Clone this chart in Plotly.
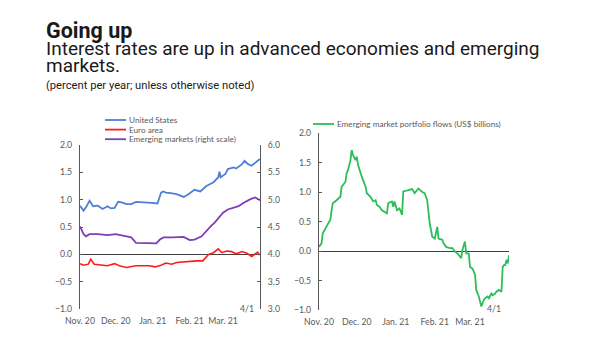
import plotly.graph_objects as go

# ---- Left panel: 10-year government bond yields ----
us_dates = ["2020-11-01", "2020-11-04", "2020-11-06", "2020-11-09", "2020-11-12", "2020-11-16",
            "2020-11-20", "2020-11-24", "2020-11-27", "2020-11-30", "2020-12-03", "2020-12-06",
            "2020-12-10", "2020-12-14", "2020-12-18", "2020-12-22", "2020-12-27", "2020-12-31",
            "2021-01-05", "2021-01-07", "2021-01-08", "2021-01-10", "2021-01-12", "2021-01-16",
            "2021-01-21", "2021-01-27", "2021-01-31", "2021-02-05", "2021-02-10", "2021-02-15",
            "2021-02-21", "2021-02-25", "2021-02-26", "2021-02-27", "2021-03-03", "2021-03-05",
            "2021-03-10", "2021-03-12", "2021-03-17", "2021-03-19", "2021-03-22", "2021-03-25",
            "2021-03-28", "2021-03-31", "2021-04-01"]
us_vals = [0.89, 0.80, 0.86, 0.98, 0.88, 0.89,
           0.83, 0.88, 0.84, 0.85, 0.96, 0.95,
           0.92, 0.92, 0.96, 0.95, 0.94, 0.94,
           0.93, 1.08, 1.13, 1.15, 1.13, 1.12,
           1.10, 1.05, 1.10, 1.18, 1.15, 1.25,
           1.32, 1.41, 1.51, 1.41, 1.47, 1.56,
           1.59, 1.57, 1.65, 1.71, 1.65, 1.62,
           1.68, 1.73, 1.74]

ea_dates = ["2020-11-01", "2020-11-04", "2020-11-08", "2020-11-10", "2020-11-13", "2020-11-19",
            "2020-11-24", "2020-11-30", "2020-12-04", "2020-12-10", "2020-12-14", "2020-12-18",
            "2020-12-24", "2020-12-29", "2021-01-03", "2021-01-08", "2021-01-12", "2021-01-17",
            "2021-01-21", "2021-01-27", "2021-02-01", "2021-02-07", "2021-02-12", "2021-02-17",
            "2021-02-21", "2021-02-25", "2021-02-28", "2021-03-04", "2021-03-08", "2021-03-12",
            "2021-03-17", "2021-03-21", "2021-03-25", "2021-03-28", "2021-03-30", "2021-03-31",
            "2021-04-01"]
ea_vals = [-0.17, -0.20, -0.18, -0.09, -0.18, -0.20,
           -0.21, -0.17, -0.21, -0.24, -0.23, -0.21,
           -0.21, -0.21, -0.23, -0.20, -0.16, -0.18,
           -0.15, -0.14, -0.12, -0.12, -0.12, 0.00,
           0.03, 0.10, 0.03, 0.06, 0.05, 0.01,
           0.05, 0.02, -0.04, 0.01, 0.04, 0.00,
           0.00]

em_dates = ["2020-11-01", "2020-11-04", "2020-11-06", "2020-11-09", "2020-11-16", "2020-11-24",
            "2020-12-01", "2020-12-08", "2020-12-14", "2020-12-18", "2020-12-25", "2021-01-01",
            "2021-01-04", "2021-01-07", "2021-01-10", "2021-01-18", "2021-01-21", "2021-01-27",
            "2021-02-01", "2021-02-05", "2021-02-11", "2021-02-15", "2021-02-19", "2021-02-22",
            "2021-02-25", "2021-03-01", "2021-03-05", "2021-03-10", "2021-03-14", "2021-03-18",
            "2021-03-24", "2021-03-28", "2021-03-30", "2021-03-31", "2021-04-01"]
em_vals = [4.51, 4.37, 4.33, 4.37, 4.37, 4.35,
           4.37, 4.33, 4.31, 4.21, 4.21, 4.20,
           4.20, 4.27, 4.31, 4.31, 4.31, 4.32,
           4.26, 4.27, 4.33, 4.43, 4.52, 4.58,
           4.66, 4.76, 4.82, 4.85, 4.88, 4.94,
           5.01, 5.04, 5.02, 5.01, 4.99]

# ---- Right panel: EM portfolio flows ----
flow_dates = ["2020-11-01", "2020-11-03", "2020-11-04", "2020-11-07", "2020-11-10", "2020-11-11",
              "2020-11-12", "2020-11-15", "2020-11-18", "2020-11-19", "2020-11-22", "2020-11-23",
              "2020-11-24", "2020-11-26", "2020-11-27", "2020-11-28", "2020-11-30", "2020-12-01",
              "2020-12-02", "2020-12-05", "2020-12-08", "2020-12-09", "2020-12-12", "2020-12-14",
              "2020-12-16", "2020-12-17", "2020-12-19", "2020-12-21", "2020-12-23", "2020-12-25",
              "2020-12-26", "2020-12-29", "2020-12-30", "2020-12-31", "2021-01-02", "2021-01-04",
              "2021-01-06", "2021-01-07", "2021-01-11", "2021-01-14", "2021-01-16", "2021-01-19",
              "2021-01-22", "2021-01-24", "2021-01-26", "2021-01-28", "2021-01-30", "2021-02-01",
              "2021-02-03", "2021-02-04", "2021-02-07", "2021-02-08", "2021-02-10", "2021-02-13",
              "2021-02-15", "2021-02-17", "2021-02-19", "2021-02-20", "2021-02-22", "2021-02-23",
              "2021-02-25", "2021-02-26", "2021-02-28", "2021-03-01", "2021-03-03", "2021-03-05",
              "2021-03-06", "2021-03-08", "2021-03-09", "2021-03-10", "2021-03-12", "2021-03-13",
              "2021-03-15", "2021-03-16", "2021-03-18", "2021-03-19", "2021-03-21", "2021-03-22",
              "2021-03-24", "2021-03-26", "2021-03-27", "2021-03-28", "2021-03-29", "2021-03-30",
              "2021-03-31", "2021-04-01"]
flow_vals = [0.07, 0.13, 0.30, 0.41, 0.53, 0.69,
             0.81, 0.86, 0.92, 1.09, 1.17, 1.32,
             1.37, 1.54, 1.71, 1.63, 1.54, 1.60,
             1.46, 1.26, 1.09, 0.98, 0.92, 0.84,
             0.86, 0.78, 0.75, 0.69, 0.67, 0.64,
             0.81, 0.84, 0.75, 0.84, 0.69, 0.72,
             0.61, 1.01, 1.03, 1.05, 0.98, 1.06,
             1.00, 0.98, 0.86, 0.47, 0.24, 0.21,
             0.41, 0.21, 0.19, 0.13, 0.07, 0.05,
             0.05, -0.01, -0.04, -0.07, -0.12, 0.02,
             0.16, -0.04, -0.04, -0.27, -0.30, -0.40,
             -0.66, -0.77, -0.86, -0.94, -0.83, -0.80,
             -0.77, -0.80, -0.72, -0.75, -0.72, -0.69,
             -0.66, -0.69, -0.27, -0.24, -0.24, -0.15,
             -0.21, -0.07]

month_ticks = ["2020-11-01", "2020-12-01", "2021-01-01", "2021-02-01", "2021-03-01", "2021-04-01"]
month_labels = ["Nov. 20", "Dec. 20", "Jan. 21", "Feb. 21", "Mar. 21", ""]
left_names = ["United States", "Euro area", "Emerging markets (right scale)"]
right_name = "Emerging market portfolio flows (US$ billions)"

C_US, C_EA, C_EM, C_FLOW = "#4f7fd6", "#ff1a1a", "#7d3fb8", "#2dbd5a"
AXIS = "#595959"
TICKFONT = dict(family="Lato", size=8.7, color="#595959")
KEYFONT = dict(family="Lato", size=8.2, color="#595959")

W, H = 600, 349


def px(x):
    return x / W


def py(y):
    return (H - y) / H


X_RANGE = ["2020-11-01", "2021-04-01"]

fig = go.Figure()
fig.add_trace(go.Scatter(x=us_dates, y=us_vals, mode="lines", line=dict(color=C_US, width=1.8),
                         xaxis="x", yaxis="y", name=left_names[0]))
fig.add_trace(go.Scatter(x=ea_dates, y=ea_vals, mode="lines", line=dict(color=C_EA, width=1.6),
                         xaxis="x", yaxis="y", name=left_names[1]))
fig.add_trace(go.Scatter(x=em_dates, y=em_vals, mode="lines", line=dict(color=C_EM, width=1.8),
                         xaxis="x", yaxis="y2", name=left_names[2]))
fig.add_trace(go.Scatter(x=flow_dates, y=flow_vals, mode="lines", line=dict(color=C_FLOW, width=1.8),
                         xaxis="x3", yaxis="y3", name=right_name))

L_dom = [px(80), px(260)]
L_ydom = [py(309), py(145)]
R_dom = [px(319), px(509)]
R_ydom = [py(310), py(133)]

date_axis = dict(type="date", range=X_RANGE, showgrid=False, zeroline=False, automargin=False)
val_axis = dict(showgrid=False, showline=True, linecolor=AXIS, linewidth=1.2, dtick=0.5,
                tickformat=".1f", ticks="inside", ticklen=3, tickcolor=AXIS,
                tickfont=TICKFONT, automargin=False, ticklabelstandoff=5)

fig.update_layout(
    width=W, height=H, margin=dict(l=0, r=0, t=0, b=0),
    paper_bgcolor="white", plot_bgcolor="white", showlegend=False,
    xaxis=dict(**date_axis, domain=L_dom, anchor="y", showline=False, ticks="",
               tickvals=month_ticks, ticktext=month_labels, tickfont=TICKFONT,
               ticklabelstandoff=5),
    xaxis2=dict(**date_axis, overlaying="x", anchor="free", position=py(255), side="top",
                showline=False, ticks="outside", ticklen=3, tickcolor=AXIS, tickwidth=1,
                tickvals=month_ticks, showticklabels=False),
    yaxis=dict(**val_axis, domain=L_ydom, anchor="x", range=[-1, 2],
               zeroline=True, zerolinecolor="#404040", zerolinewidth=1.2),
    yaxis2=dict(**val_axis, overlaying="y", side="right", anchor="x", range=[3, 6],
                zeroline=False),
    xaxis3=dict(**date_axis, domain=R_dom, anchor="y3", showline=False, ticks="",
                tickvals=month_ticks, ticktext=month_labels, tickfont=TICKFONT,
                ticklabelstandoff=5),
    xaxis4=dict(**date_axis, overlaying="x3", anchor="free", position=py(251), side="top",
                showline=False, ticks="outside", ticklen=3, tickcolor=AXIS, tickwidth=1,
                tickvals=month_ticks, showticklabels=False),
    yaxis3=dict(**val_axis, domain=R_ydom, anchor="x3", range=[-1, 2],
                zeroline=True, zerolinecolor="#404040", zerolinewidth=1.2),
)

# Headline block: one text box, tight line pitch, larger glyphs set per line
headline = (
    '<span style="font-size:21.5px;font-weight:bold">Going up</span><br>'
    '<span style="font-size:19px">Interest rates are up in advanced economies and emerging</span><br>'
    '<span style="font-size:19px">markets.</span><br>'
    '<span style="font-size:11.2px">(percent per year; unless otherwise noted)</span>'
)
fig.add_annotation(text=headline, x=px(44), y=py(16), xref="paper", yref="paper",
                   xanchor="left", yanchor="top", align="left", showarrow=False,
                   font=dict(family="Roboto", size=13, color="#1a1a1a"))

# Legend keys drawn as short line samples with labels
left_key_colors = [C_US, C_EA, C_EM]
for i, (name, col) in enumerate(zip(left_names, left_key_colors)):
    yk = 120 + i * 9.6
    fig.add_shape(type="line", xref="paper", yref="paper", x0=px(105), x1=px(126),
                  y0=py(yk), y1=py(yk), line=dict(color=col, width=1.8))
    fig.add_annotation(text=name, x=px(127), y=py(yk), xref="paper", yref="paper",
                       xanchor="left", yanchor="middle", showarrow=False, font=KEYFONT)
fig.add_shape(type="line", xref="paper", yref="paper", x0=px(313), x1=px(334),
              y0=py(124), y1=py(124), line=dict(color=C_FLOW, width=1.8))
fig.add_annotation(text=right_name, x=px(335), y=py(124), xref="paper", yref="paper",
                   xanchor="left", yanchor="middle", showarrow=False, font=KEYFONT)

# End-date notes
fig.add_annotation(text="4/1", x=px(247), y=py(316), xref="paper", yref="paper",
                   showarrow=False, font=TICKFONT)
fig.add_annotation(text="4/1", x=px(503), y=py(316), xref="paper", yref="paper",
                   showarrow=False, font=TICKFONT)

fig.write_html("out.html")
